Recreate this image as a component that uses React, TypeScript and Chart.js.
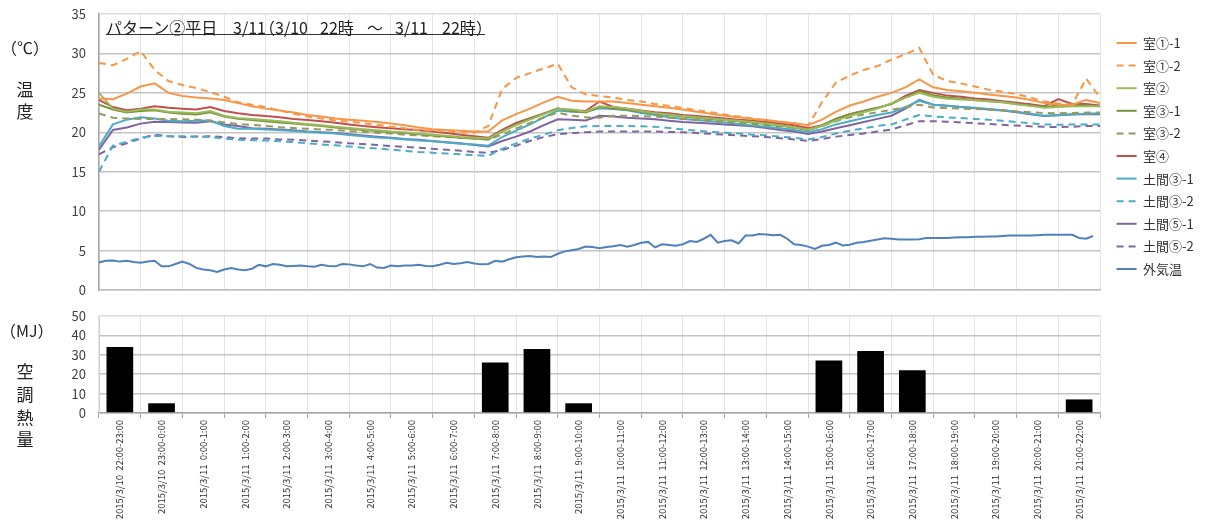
import React, { useEffect, useRef } from "react";
import { Chart, registerables } from "chart.js";

Chart.register(...registerables);

const FONT = '"Noto Sans CJK JP", "Noto Sans", sans-serif';

// Hours elapsed since 2015/3/10 22:00 (room sensors every 20 min, outdoor every 10 min)
const roomHours: number[] = Array.from({ length: 73 }, (_, k) => k / 3);
const outdoorHours: number[] = Array.from({ length: 144 }, (_, i) => i / 6);

const room1_1 = [
  24.3, 24.2, 24.9, 25.8, 26.2, 25.0, 24.6, 24.4, 24.3, 24.1,
  23.7, 23.3, 23.0, 22.75, 22.5, 22.2, 22.0, 21.75, 21.6, 21.45,
  21.3, 21.1, 20.9, 20.6, 20.4, 20.3, 20.2, 20.1, 20.1, 21.5,
  22.3, 23.0, 23.8, 24.5, 24.0, 23.9, 23.9, 23.9, 23.7, 23.5,
  23.3, 23.1, 22.9, 22.6, 22.35, 22.1, 21.9, 21.7, 21.55, 21.35,
  21.15, 20.9, 21.6, 22.6, 23.4, 23.9, 24.5, 25.0, 25.7, 26.7,
  25.7, 25.35, 25.2, 25.0, 24.8, 24.6, 24.4, 24.1, 23.7, 23.5,
  23.5, 24.1, 23.7,
];
const room1_2 = [
  28.8, 28.5, 29.3, 30.3, 27.9, 26.5, 26.0, 25.6, 25.1, 24.5,
  23.8, 23.5, 23.2, 22.75, 22.35, 22.0, 21.75, 21.5, 21.35, 21.15,
  20.95, 20.7, 20.5, 20.3, 20.2, 20.1, 20.0, 19.95, 20.8, 25.5,
  26.9, 27.5, 28.1, 28.7, 25.7, 24.8, 24.6, 24.4, 24.1, 23.9,
  23.6, 23.35, 23.1, 22.8, 22.55, 22.25, 22.0, 21.75, 21.5, 21.3,
  21.15, 20.8, 23.8, 26.3, 27.2, 27.9, 28.4, 29.2, 29.9, 30.7,
  27.3, 26.5, 26.2, 25.8, 25.4, 25.15, 24.85, 24.4, 23.9, 23.65,
  23.5, 26.8, 24.4,
];
const room2 = [
  25.0, 23.0, 22.6, 22.9, 22.9, 22.6, 22.5, 22.4, 22.7, 22.1,
  21.8, 21.7, 21.55, 21.4, 21.2, 21.05, 20.9, 20.7, 20.55, 20.4,
  20.25, 20.1, 20.0, 19.85, 19.7, 19.55, 19.4, 19.3, 19.2, 20.1,
  20.9, 21.6, 22.3, 22.95, 22.9, 22.6, 23.3, 23.2, 23.0, 22.7,
  22.4, 22.25, 22.05, 21.9, 21.75, 21.6, 21.45, 21.3, 21.1, 20.9,
  20.6, 20.35, 20.8, 21.5, 22.1, 22.55, 23.0, 23.7, 24.4, 25.0,
  24.5, 24.25, 24.15, 24.05, 23.95, 23.8, 23.55, 23.35, 23.1, 23.2,
  23.3, 23.3, 23.3,
];
const room3_1 = [
  23.5, 22.9, 22.5, 22.7, 22.8, 22.5, 22.35, 22.25, 22.55, 22.0,
  21.7, 21.55, 21.4, 21.25, 21.1, 20.95, 20.8, 20.6, 20.45, 20.3,
  20.15, 20.0, 19.9, 19.75, 19.6, 19.45, 19.3, 19.2, 19.1, 20.1,
  21.0, 21.7, 22.35, 23.0, 22.7, 22.5, 23.2, 23.0, 22.85, 22.6,
  22.35, 22.2, 22.0, 21.85, 21.7, 21.55, 21.4, 21.25, 21.05, 20.85,
  20.6, 20.3, 20.85, 21.7, 22.3, 22.7, 23.1, 23.6, 24.4, 25.2,
  24.7, 24.4, 24.25, 24.1, 23.95, 23.8, 23.6, 23.4, 23.2, 23.4,
  23.4, 23.4, 23.3,
];
const room3_2 = [
  22.4, 21.85, 21.75, 21.7, 21.7, 21.7, 21.65, 21.6, 21.5, 21.25,
  21.05, 20.95, 20.8, 20.65, 20.55, 20.45, 20.35, 20.3, 20.15, 20.05,
  19.95, 19.85, 19.7, 19.6, 19.5, 19.4, 19.3, 19.2, 19.1, 19.7,
  20.5, 21.2, 21.9, 22.5, 22.1, 21.9, 21.85, 22.1, 22.1, 22.05,
  22.0, 21.85, 21.7, 21.6, 21.45, 21.35, 21.2, 21.05, 20.9, 20.75,
  20.55, 20.3, 20.75, 21.4, 21.9, 22.25, 22.55, 22.85, 23.15, 23.5,
  23.15, 23.05, 23.0, 22.95, 22.9, 22.8, 22.65, 22.55, 22.45, 22.4,
  22.45, 22.5, 22.5,
];
const room4 = [
  24.1, 23.2, 22.8, 23.0, 23.3, 23.1, 23.0, 22.9, 23.2, 22.7,
  22.4, 22.2, 22.05, 21.9, 21.7, 21.55, 21.4, 21.2, 21.0, 20.8,
  20.65, 20.5, 20.4, 20.25, 20.1, 19.9, 19.7, 19.5, 19.3, 20.3,
  21.2, 21.8, 22.4, 23.0, 22.8, 22.7, 23.9, 23.2, 23.0, 22.75,
  22.55, 22.4, 22.2, 22.05, 21.9, 21.75, 21.6, 21.45, 21.3, 21.1,
  20.9, 20.5, 20.9, 21.7, 22.3, 22.7, 23.1, 23.6, 24.6, 25.35,
  25.0, 24.65, 24.5, 24.3, 24.15, 23.95, 23.75, 23.55, 23.3, 24.2,
  23.6, 23.6, 23.4,
];
const doma3_1 = [
  18.2, 21.0, 21.6, 21.9, 21.75, 21.45, 21.4, 21.45, 21.5, 20.8,
  20.45, 20.45, 20.35, 20.25, 20.15, 20.05, 19.95, 19.85, 19.65, 19.5,
  19.35, 19.25, 19.1, 18.95, 18.85, 18.7, 18.55, 18.45, 18.3, 19.4,
  20.2, 21.0, 21.9, 22.75, 22.6, 22.6, 23.05, 22.95, 22.8, 22.45,
  22.2, 21.9, 21.7, 21.55, 21.4, 21.25, 21.05, 20.85, 20.7, 20.5,
  20.3, 20.0, 20.4, 21.0, 21.4, 21.8, 22.2, 22.5, 23.2, 24.0,
  23.5, 23.35, 23.2, 23.1, 22.95, 22.8, 22.6, 22.35, 22.1, 22.2,
  22.3, 22.35, 22.4,
];
const doma3_2 = [
  15.0, 18.3, 18.8, 19.3, 19.55, 19.5, 19.5, 19.45, 19.4, 19.2,
  19.05, 19.0, 18.95, 18.85, 18.75, 18.6, 18.45, 18.35, 18.2, 18.05,
  17.95, 17.8, 17.65, 17.5, 17.4, 17.3, 17.2, 17.1, 17.0, 17.9,
  18.6, 19.2, 19.7, 20.25, 20.55, 20.75, 20.8, 20.8, 20.8, 20.75,
  20.7, 20.55, 20.35, 20.2, 20.05, 19.95, 19.85, 19.7, 19.6, 19.45,
  19.3, 19.1, 19.4, 19.85, 20.2, 20.5, 20.8, 21.0, 21.6, 22.2,
  22.0, 21.9, 21.8, 21.7, 21.6, 21.45, 21.3, 21.15, 21.0, 20.95,
  21.0, 21.0, 21.0,
];
const doma5_1 = [
  17.8, 20.3, 20.6, 21.1, 21.35, 21.3, 21.25, 21.2, 21.4, 21.0,
  20.8, 20.5, 20.45, 20.35, 20.25, 20.1, 20.0, 19.9, 19.75, 19.6,
  19.45, 19.3, 19.15, 19.05, 18.9, 18.75, 18.6, 18.4, 18.2, 18.9,
  19.45, 20.1, 20.9, 21.65, 21.6, 21.5, 22.1, 22.0, 21.85, 21.75,
  21.65, 21.45, 21.3, 21.2, 21.1, 21.0, 20.9, 20.75, 20.55, 20.3,
  20.1, 19.8, 20.1, 20.5, 20.9, 21.3, 21.7, 22.1, 23.0, 24.1,
  23.5, 23.35, 23.2, 23.05, 22.9, 22.75, 22.55, 22.3, 22.05, 22.15,
  22.25, 22.3, 22.3,
];
const doma5_2 = [
  17.2, 18.1, 18.6, 19.2, 19.7, 19.5, 19.4, 19.45, 19.5, 19.4,
  19.25, 19.2, 19.2, 19.1, 19.05, 18.95, 18.85, 18.75, 18.6, 18.5,
  18.4, 18.25, 18.15, 18.05, 17.9, 17.8, 17.65, 17.5, 17.4, 17.75,
  18.3, 18.9, 19.4, 19.75, 19.9, 20.0, 20.1, 20.1, 20.1, 20.1,
  20.1, 20.05, 20.0, 19.9, 19.8, 19.7, 19.6, 19.5, 19.4, 19.25,
  19.1, 18.9, 19.15, 19.45, 19.65, 19.85, 20.1, 20.35, 20.9, 21.4,
  21.4, 21.35, 21.25, 21.15, 21.05, 20.95, 20.85, 20.75, 20.7, 20.65,
  20.7, 20.8, 20.8,
];
const outdoor = [
  3.5, 3.7, 3.75, 3.6, 3.7, 3.55, 3.45, 3.6, 3.7, 3.0,
  3.0, 3.3, 3.6, 3.3, 2.8, 2.6, 2.5, 2.3, 2.6, 2.8,
  2.6, 2.5, 2.7, 3.2, 3.0, 3.3, 3.2, 3.0, 3.05, 3.1,
  3.0, 2.95, 3.2, 3.05, 3.0, 3.3, 3.25, 3.1, 3.0, 3.3,
  2.85, 2.8, 3.1, 3.0, 3.1, 3.1, 3.2, 3.05, 3.0, 3.2,
  3.45, 3.3, 3.4, 3.55, 3.35, 3.25, 3.3, 3.7, 3.6, 3.9,
  4.15, 4.25, 4.3, 4.2, 4.25, 4.2, 4.6, 4.9, 5.05, 5.2,
  5.5, 5.45, 5.3, 5.45, 5.55, 5.7, 5.5, 5.7, 6.0, 6.1,
  5.4, 5.8, 5.7, 5.6, 5.8, 6.2, 6.1, 6.5, 7.0, 6.0,
  6.2, 6.3, 5.9, 6.9, 6.9, 7.1, 7.05, 6.95, 7.0, 6.5,
  5.8, 5.7, 5.5, 5.2, 5.6, 5.7, 6.0, 5.65, 5.75, 6.0,
  6.1, 6.25, 6.4, 6.55, 6.5, 6.4, 6.4, 6.4, 6.45, 6.6,
  6.6, 6.6, 6.6, 6.65, 6.7, 6.7, 6.75, 6.75, 6.8, 6.8,
  6.85, 6.9, 6.9, 6.9, 6.9, 6.95, 7.0, 7.0, 7.0, 7.0,
  7.0, 6.6, 6.5, 6.85,
];

// Hourly air-conditioning heat (MJ)
const hourLabels = [
  "2015/3/10  22:00-23:00", "2015/3/10  23:00-0:00",
  "2015/3/11  0:00-1:00", "2015/3/11  1:00-2:00", "2015/3/11  2:00-3:00",
  "2015/3/11  3:00-4:00", "2015/3/11  4:00-5:00", "2015/3/11  5:00-6:00",
  "2015/3/11  6:00-7:00", "2015/3/11  7:00-8:00", "2015/3/11  8:00-9:00",
  "2015/3/11  9:00-10:00", "2015/3/11  10:00-11:00", "2015/3/11  11:00-12:00",
  "2015/3/11  12:00-13:00", "2015/3/11  13:00-14:00", "2015/3/11  14:00-15:00",
  "2015/3/11  15:00-16:00", "2015/3/11  16:00-17:00", "2015/3/11  17:00-18:00",
  "2015/3/11  18:00-19:00", "2015/3/11  19:00-20:00", "2015/3/11  20:00-21:00",
  "2015/3/11  21:00-22:00",
];
const heatMJ = [34, 5, 0, 0, 0, 0, 0, 0, 0, 26, 33, 5, 0, 0, 0, 0, 0, 27, 32, 22, 0, 0, 0, 7];

// Title pieces and their left edges
const titleParts: [string, number][] = [
  ["パターン②平日", 106],
  ["3/11", 233],
  ["（3/10", 259],
  ["22時", 320],
  ["～", 367],
  ["3/11", 395],
  ["22時", 442],
  ["）", 476],
];

const DASH = [7, 5];
const lineSeries = [
  { label: "室①-1", values: room1_1, times: roomHours, color: "#F79646", dash: [] as number[] },
  { label: "室①-2", values: room1_2, times: roomHours, color: "#F79646", dash: DASH },
  { label: "室②", values: room2, times: roomHours, color: "#9BBB59", dash: [] as number[] },
  { label: "室③-1", values: room3_1, times: roomHours, color: "#77933C", dash: [] as number[] },
  { label: "室③-2", values: room3_2, times: roomHours, color: "#959A5E", dash: DASH },
  { label: "室④", values: room4, times: roomHours, color: "#C0504D", dash: [] as number[] },
  { label: "土間③-1", values: doma3_1, times: roomHours, color: "#4BACC6", dash: [] as number[] },
  { label: "土間③-2", values: doma3_2, times: roomHours, color: "#4BACC6", dash: DASH },
  { label: "土間⑤-1", values: doma5_1, times: roomHours, color: "#8064A2", dash: [] as number[] },
  { label: "土間⑤-2", values: doma5_2, times: roomHours, color: "#8064A2", dash: DASH },
  { label: "外気温", values: outdoor, times: outdoorHours, color: "#4F81BD", dash: [] as number[] },
];

// nudges the legend column a little to the right of the plot edge
const legendNudge = {
  id: "legendNudge",
  afterLayout(chart: any) {
    const lg = chart.legend;
    if (lg) {
      lg.left += 7;
      lg.right += 7;
    }
  },
};

// y-axis labels sit 13px left of the axis via invisible tick marks
const yGrid = (topValue: number) => ({
  color: (c: any) => (c.tick && c.tick.value === topValue ? "#dcdcdc" : "#c4c4c4"),
  lineWidth: 1.5,
  drawTicks: true,
  tickLength: 13,
  tickColor: "rgba(0,0,0,0)",
});

function TemperatureChart() {
  const ref = useRef<HTMLCanvasElement | null>(null);
  useEffect(() => {
    if (!ref.current) return;
    const datasets = lineSeries.map((s) => ({
      label: s.label,
      data: s.times.map((t, i) => ({ x: t, y: s.values[i] })),
      borderColor: s.color,
      backgroundColor: s.color,
      borderDash: s.dash,
      borderWidth: 2,
      pointRadius: 0,
      tension: 0,
      fill: false,
    }));
    const chart = new Chart(ref.current, {
      type: "line",
      data: { datasets },
      options: {
        animation: false,
        responsive: false,
        events: [],
        layout: { padding: { top: 14, right: 20, bottom: 2, left: 0 } },
        plugins: {
          tooltip: { enabled: false },
          legend: {
            position: "right",
            maxWidth: 90,
            labels: {
              usePointStyle: true,
              pointStyle: "line",
              pointStyleWidth: 20,
              padding: 9.6,
              color: "#333",
              font: { family: FONT, size: 13 },
              generateLabels: () =>
                lineSeries.map((s, i) => ({
                  text: s.label,
                  fillStyle: s.color,
                  strokeStyle: s.color,
                  lineWidth: 2,
                  lineDash: s.dash,
                  pointStyle: "line",
                  hidden: false,
                  datasetIndex: i,
                  fontColor: "#333",
                })),
            },
          },
        },
        scales: {
          x: {
            type: "linear",
            min: 0,
            max: 24,
            ticks: { display: false, stepSize: 1 },
            grid: { color: "#e4e4e4", lineWidth: 1, drawTicks: true, tickLength: 8, tickColor: "rgba(0,0,0,0)" },
            border: { color: "#bdbdbd", width: 1.5 },
          },
          y: {
            min: 0,
            max: 35,
            ticks: { stepSize: 5, autoSkip: false, padding: 0, color: "#404040", font: { family: FONT, size: 13 } },
            grid: yGrid(35),
            border: { color: "#a6a6a6", width: 1.5 },
            afterFit: (s: any) => {
              s.width = 99;
            },
          },
        },
      } as any,
      plugins: [legendNudge],
    });
    return () => chart.destroy();
  }, []);
  return (
    <canvas
      ref={ref}
      width={1210}
      height={300}
      style={{ position: "absolute", left: 0, top: 0, width: 1210, height: 300 }}
    />
  );
}

function HeatChart() {
  const ref = useRef<HTMLCanvasElement | null>(null);
  useEffect(() => {
    if (!ref.current) return;
    const chart = new Chart(ref.current, {
      type: "bar",
      data: {
        labels: hourLabels,
        datasets: [
          {
            data: heatMJ,
            backgroundColor: "#000000",
            borderColor: "#000000",
            borderWidth: 0,
            barPercentage: 0.64,
            categoryPercentage: 1,
          },
        ],
      },
      options: {
        animation: false,
        responsive: false,
        events: [],
        layout: { padding: { top: 16, right: 110, bottom: 0, left: 0 } },
        plugins: { legend: { display: false }, tooltip: { enabled: false } },
        scales: {
          x: {
            ticks: {
              autoSkip: false,
              minRotation: 90,
              maxRotation: 90,
              padding: 2,
              color: "#333",
              font: { family: FONT, size: 9.5 },
            },
            grid: { color: "#e4e4e4", offset: true, tickLength: 5, tickColor: "#a6a6a6" },
            border: { color: "#a6a6a6", width: 1.5 },
            afterFit: (s: any) => {
              s.height = 116;
            },
          },
          y: {
            min: 0,
            max: 50,
            ticks: { stepSize: 10, autoSkip: false, padding: 0, color: "#404040", font: { family: FONT, size: 13 } },
            grid: yGrid(50),
            border: { color: "#d0d0d0", width: 1 },
            afterFit: (s: any) => {
              s.width = 99;
            },
          },
        },
      } as any,
    });
    return () => chart.destroy();
  }, []);
  return (
    <canvas
      ref={ref}
      width={1210}
      height={229}
      style={{ position: "absolute", left: 0, top: 300, width: 1210, height: 229 }}
    />
  );
}

const sideLabel = (text: string, cy: number, size: number) => (
  <div
    key={text + cy}
    style={{
      position: "absolute",
      left: 0,
      width: 50,
      top: cy - size / 2 - 2,
      height: size + 4,
      lineHeight: `${size + 4}px`,
      textAlign: "center",
      fontSize: size,
      color: "#222",
      fontFamily: FONT,
      whiteSpace: "pre",
    }}
  >
    {text}
  </div>
);

export default function App() {
  return (
    <div
      style={{
        position: "fixed",
        left: 0,
        top: 0,
        width: 1210,
        height: 529,
        background: "#ffffff",
        overflow: "hidden",
      }}
    >
      <TemperatureChart />
      <HeatChart />
      <div
        style={{
          position: "absolute",
          left: 106,
          top: 19,
          width: 379,
          height: 15,
          borderBottom: "1px solid #333",
        }}
      >
        {titleParts.map(([t, x]) => (
          <span
            key={t + x}
            style={{
              position: "absolute",
              left: x - 106,
              top: 0,
              fontFamily: FONT,
              fontSize: 16,
              lineHeight: "17px",
              color: "#222",
              whiteSpace: "pre",
            }}
          >
            {t}
          </span>
        ))}
      </div>
      {sideLabel("（℃）", 47, 16)}
      {sideLabel("温", 88, 17)}
      {sideLabel("度", 110, 17)}
      {sideLabel("（MJ）", 330, 16)}
      {sideLabel("空", 370, 17)}
      {sideLabel("調", 393, 17)}
      {sideLabel("熱", 416, 17)}
      {sideLabel("量", 438, 17)}
    </div>
  );
}
